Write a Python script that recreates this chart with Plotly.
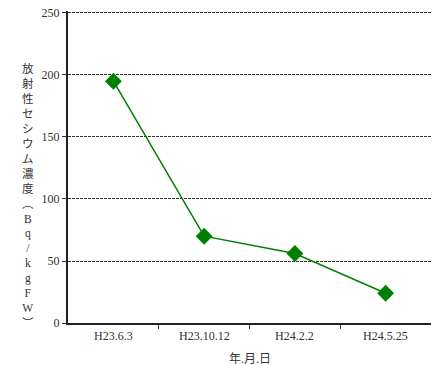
import plotly.graph_objects as go

dates = ["H23.6.3", "H23.10.12", "H24.2.2", "H24.5.25"]
cesium = [195, 70, 56, 24]
y_ticks = [0, 50, 100, 150, 200, 250]
y_title_chars = list("放射性セシウム濃度") + ["︵", "B", "q", "/", "k", "g", "F", "W", "︶"]

serif = "Liberation Serif, Noto Sans CJK JP, serif"
txt = "#333"

fig = go.Figure()
fig.add_trace(go.Scatter(
    x=list(range(len(dates))), y=cesium, mode="lines+markers",
    line=dict(color="#008000", width=1.5),
    marker=dict(symbol="diamond", size=13, color="#008000"),
    showlegend=False, cliponaxis=False,
))

fig.update_layout(
    width=432, height=365,
    margin=dict(l=68, r=1, t=11, b=42),
    paper_bgcolor="white", plot_bgcolor="white",
    font=dict(family=serif, size=12, color=txt),
    xaxis=dict(
        range=[-0.5, len(dates) - 0.5],
        tickvals=[i - 0.5 for i in range(1, len(dates))],
        ticktext=[""] * (len(dates) - 1),
        ticks="outside", ticklen=4, tickcolor="#333",
        showgrid=False, zeroline=False,
        showline=True, linecolor="#222", linewidth=2,
    ),
    yaxis=dict(
        range=[0, 251.6], tickvals=y_ticks,
        ticks="outside", ticklen=4, tickcolor="#333",
        showgrid=True, gridcolor="#333", griddash="3px,1px", gridwidth=1,
        zeroline=False, showline=True, linecolor="#222", linewidth=2,
        tickfont=dict(family=serif, size=12, color=txt),
    ),
)

for i, d in enumerate(dates):
    fig.add_annotation(x=i, y=0, yref="y", yshift=-13, text=d, showarrow=False,
                       font=dict(family=serif, size=12, color=txt))

fig.add_annotation(xref="paper", yref="paper", x=0.5, y=0, yshift=-45, text="年.月.日",
                   showarrow=False, font=dict(family=serif, size=12, color=txt))

fig.add_annotation(xref="paper", yref="paper", x=0, xshift=-48, y=0.41,
                   text="<br>".join(y_title_chars), showarrow=False,
                   font=dict(family=serif, size=11.5, color=txt), align="center")

fig.write_html("out.html")
